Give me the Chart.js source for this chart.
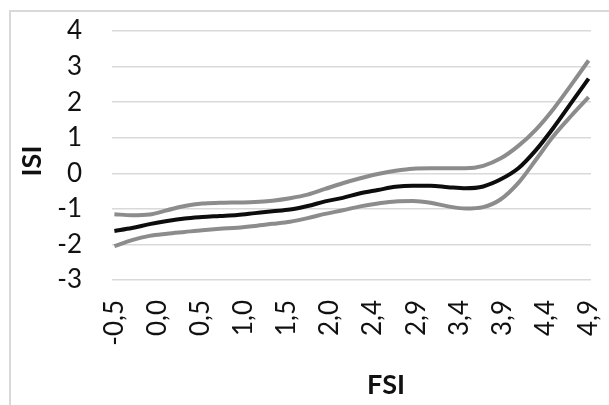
<!DOCTYPE html>
<html>
<head>
<meta charset="utf-8">
<script src="https://cdn.jsdelivr.net/npm/chart.js@4"></script>
<style>
  html, body { margin: 0; padding: 0; background: #fff; }
  canvas { display: block; }
</style>
</head>
<body>
<canvas id="isiChart" width="609" height="405"></canvas>
<script>
// FSI values where the curves were read
const fsiValues = [-0.5, -0.3, -0.1, 0.1, 0.3, 0.5, 0.7, 0.9, 1.1, 1.3, 1.5, 1.7, 1.9, 2.1,
                   2.3, 2.5, 2.7, 2.9, 3.1, 3.3, 3.5, 3.7, 3.9, 4.1, 4.3, 4.5, 4.7, 4.9];
// ISI estimate and the two band lines
const isiMid = [-1.62, -1.54, -1.43, -1.34, -1.27, -1.23, -1.20, -1.17, -1.12, -1.07, -1.02, -0.92, -0.79, -0.69,
                -0.56, -0.47, -0.38, -0.35, -0.35, -0.39, -0.42, -0.37, -0.17, 0.14, 0.65, 1.28, 1.97, 2.66];
const isiUpper = [-1.15, -1.18, -1.16, -1.04, -0.92, -0.85, -0.83, -0.82, -0.81, -0.77, -0.70, -0.60, -0.44, -0.28,
                  -0.14, -0.02, 0.07, 0.13, 0.14, 0.14, 0.14, 0.21, 0.42, 0.77, 1.23, 1.81, 2.48, 3.17];
const isiLower = [-2.05, -1.88, -1.76, -1.70, -1.65, -1.60, -1.56, -1.53, -1.48, -1.42, -1.36, -1.26, -1.14, -1.04,
                  -0.93, -0.85, -0.79, -0.78, -0.83, -0.93, -0.99, -0.95, -0.73, -0.27, 0.38, 1.05, 1.61, 2.14];
// category labels shown on the x axis
const xTickLabels = ['-0,5', '0,0', '0,5', '1,0', '1,5', '2,0', '2,4', '2,9', '3,4', '3,9', '4,4', '4,9'];
const xFirst = -0.5, xLast = 4.9;

const xTickPos = xTickLabels.map((_, i) => xFirst + i * (xLast - xFirst) / (xTickLabels.length - 1));
const toPoints = arr => arr.map((y, i) => ({ x: fsiValues[i], y: y }));

// frame and axis titles, placed like the original
const decorations = {
    id: 'decorations',
    beforeDraw(chart) {
        const ctx = chart.ctx;
        ctx.save();
        ctx.strokeStyle = '#d9d9d9';
        ctx.lineWidth = 2;
        ctx.strokeRect(10, 11, 700, 500);
        ctx.restore();
    },
    afterDraw(chart) {
        const ctx = chart.ctx;
        ctx.save();
        ctx.fillStyle = '#111';
        ctx.font = 'bold 27px Lato';
        ctx.textAlign = 'center';
        ctx.textBaseline = 'middle';
        ctx.fillText('FSI', 386, 385);
        ctx.translate(32, 161);
        ctx.rotate(-Math.PI / 2);
        ctx.fillText('ISI', 0, 0);
        ctx.restore();
    }
};

const lineStyle = { borderWidth: 4, pointRadius: 0, cubicInterpolationMode: 'monotone', fill: false };

new Chart(document.getElementById('isiChart').getContext('2d'), {
    type: 'line',
    data: {
        datasets: [
            { label: 'upper', data: toPoints(isiUpper), borderColor: '#8c8c8c', ...lineStyle },
            { label: 'lower', data: toPoints(isiLower), borderColor: '#8c8c8c', ...lineStyle },
            { label: 'ISI', data: toPoints(isiMid), borderColor: '#0d0d0d', ...lineStyle }
        ]
    },
    options: {
        responsive: false,
        animation: false,
        layout: { padding: { left: 0, top: 31, right: 18, bottom: 0 } },
        plugins: { legend: { display: false }, tooltip: { enabled: false } },
        scales: {
            x: {
                type: 'linear',
                min: xFirst - 0.0273,
                max: xLast + 0.0273,
                afterBuildTicks: scale => { scale.ticks = xTickPos.map(v => ({ value: v })); },
                afterFit: scale => {
                    scale.height = 125;
                    scale.paddingLeft = 0;
                    scale.paddingRight = 0;
                },
                grid: { display: false, drawTicks: false },
                border: { display: false },
                ticks: {
                    autoSkip: false,
                    maxRotation: 90,
                    minRotation: 90,
                    padding: 20,
                    color: '#111',
                    font: { family: 'Lato', size: 26 },
                    callback: (val, i) => xTickLabels[i]
                }
            },
            y: {
                min: -3,
                max: 4,
                afterFit: scale => {
                    scale.width = 112;
                    scale.paddingTop = 0;
                    scale.paddingBottom = 0;
                },
                grid: { color: '#d9d9d9', lineWidth: 1.5, drawTicks: false },
                border: { display: false },
                ticks: {
                    stepSize: 1,
                    autoSkip: false,
                    padding: 30,
                    color: '#111',
                    font: { family: 'Lato', size: 26 }
                }
            }
        }
    },
    plugins: [decorations]
});
</script>
</body>
</html>
